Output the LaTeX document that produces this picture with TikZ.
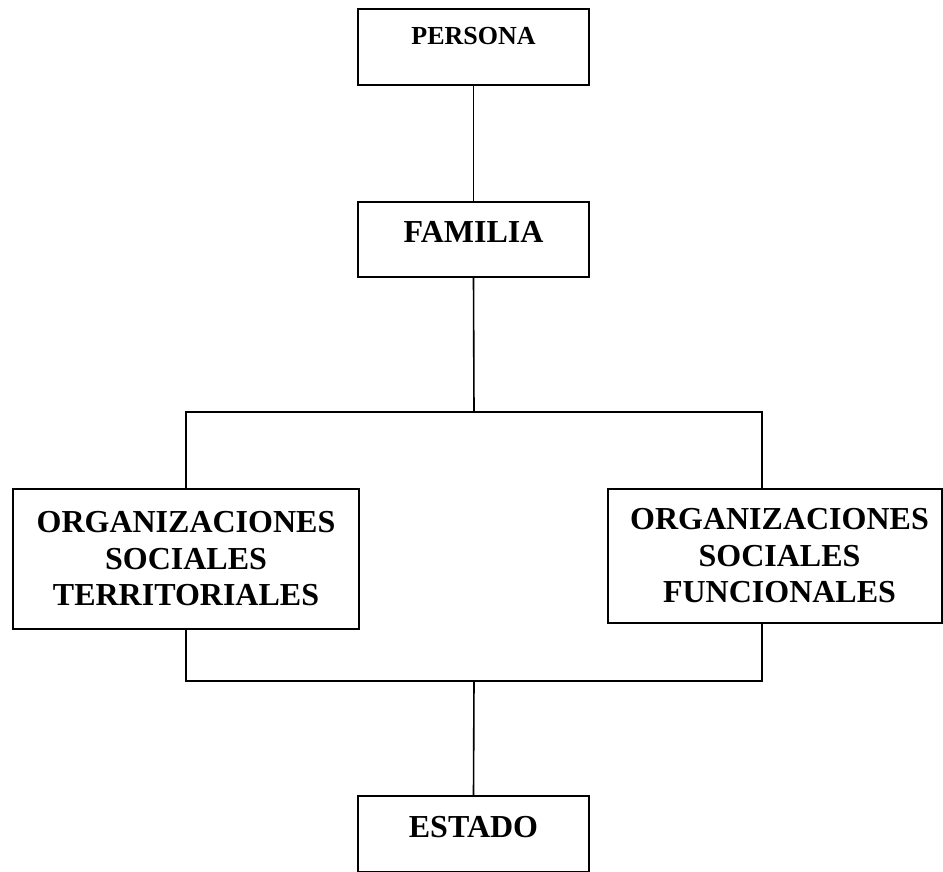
\documentclass[tikz,border=0pt]{standalone}
\usepackage{fontspec}
\setmainfont{Liberation Serif}
\begin{document}
\begin{tikzpicture}[x=1pt,y=-1pt,
  box/.style={draw=black,line width=1.6pt,inner sep=0pt,font=\bfseries,align=center},
  wire/.style={draw=black,line width=1.6pt}]
\useasboundingbox (0,0) rectangle (943,872);
\node[box,minimum width=231pt,text height=36pt,text depth=40pt,font=\bfseries\fontsize{26}{30}\selectfont] (persona) at (473.5,47) {PERSONA};
\node[box,minimum width=231pt,text height=40pt,text depth=35pt,font=\bfseries\fontsize{32}{36}\selectfont] (familia) at (473.5,239.5) {FAMILIA};
\node[box,minimum width=346pt,minimum height=140pt,font=\bfseries\fontsize{32}{36.5}\selectfont] (left) at (186,559) {ORGANIZACIONES\\SOCIALES\\TERRITORIALES};
\node[box,minimum width=334pt,minimum height=134pt,font=\bfseries\fontsize{32}{36.5}\selectfont] (right) at (775,556) {\hspace*{9pt}ORGANIZACIONES\\\hspace*{9pt}SOCIALES\\\hspace*{9pt}FUNCIONALES};
\node[box,minimum width=231pt,text height=41pt,text depth=35pt,font=\bfseries\fontsize{32}{36}\selectfont] (estado) at (473.5,834) {ESTADO};
\coordinate (top) at (474,412);
\coordinate (tl) at (186,412);
\coordinate (tr) at (762,412);
\coordinate (bot) at (474,681);
\coordinate (bl) at (186,681);
\coordinate (br) at (762,681);
\draw[wire] (persona.south) -- (familia.north);
\draw[wire] (familia.south) -- (top);
\draw[wire] (left.north) -- (tl) -- (tr) -- (tr |- right.north);
\draw[wire] (left.south) -- (bl) -- (br) -- (br |- right.south);
\draw[wire] (bot) -- (estado.north);
\end{tikzpicture}
\end{document}
